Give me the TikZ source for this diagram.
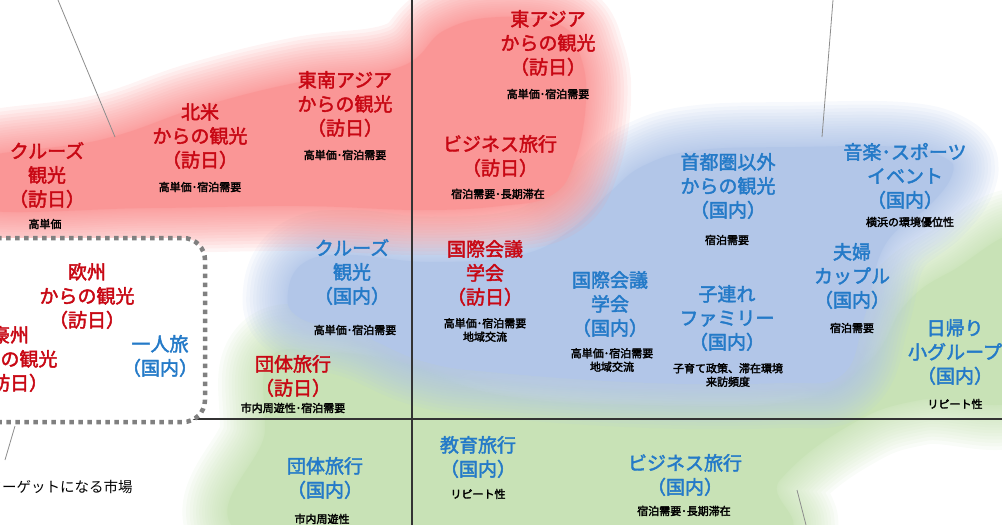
\documentclass[tikz,border=0pt]{standalone}
\usepackage{fontspec}
\setmainfont{Noto Sans CJK JP}
\newfontfamily\labfont{Noto Sans CJK JP}[FakeBold=2.2]
\newfontfamily\notefont{Noto Sans CJK JP}[FakeBold=2.5]
\definecolor{redfill}{RGB}{250,150,150}
\definecolor{bluefill}{RGB}{178,198,232}
\definecolor{greenfill}{RGB}{200,226,182}
\definecolor{redtxt}{RGB}{200,8,20}
\definecolor{bluetxt}{RGB}{36,122,200}
\newcommand{\softblob}[2]{%
  \foreach \i in {24,23,...,1} {\pgfmathsetmacro\blobw{90*(\i/24)*(\i/24)}\draw[#1, line width=\blobw pt, opacity=0.1, line join=round] plot[smooth cycle, tension=0.7] coordinates {#2};}
  \fill[#1] plot[smooth cycle, tension=0.7] coordinates {#2};%
}
\tikzset{
  lab/.style={align=center, font=\labfont\fontsize{19}{24}\selectfont, inner sep=0pt},
  jp/.style={lab, text=redtxt},
  dom/.style={lab, text=bluetxt},
  note/.style={align=center, font=\notefont\fontsize{11}{13.5}\selectfont, inner sep=0pt, text=black},
  axisline/.style={line width=1.1pt, draw=black!80},
  leader/.style={line width=0.8pt, draw=black!45},
  targetbox/.style={draw=black!50, line width=4.5pt, dash pattern=on 4.5pt off 4.5pt, rounded corners=22pt, fill=white},
}
\begin{document}
\begin{tikzpicture}[x=1pt,y=-1pt]
\useasboundingbox (0,0) rectangle (1002,525);
\clip (0,0) rectangle (1002,525);
% soft coloured regions
\softblob{greenfill}{(270,358) (325,352) (400,362) (500,395) (650,405) (800,400) (870,360) (905,305) (950,272) (1030,240) (1030,390) (920,400) (850,425) (780,480) (744,545) (270,545) (265,430)}
\softblob{bluefill}{(288,292) (305,262) (350,255) (430,262) (520,255) (570,230) (610,192) (645,165) (700,150) (800,147) (900,147) (945,158) (952,175) (930,205) (885,245) (865,315) (842,375) (780,383) (650,383) (500,373) (425,362) (360,335) (300,318)}
\softblob{redfill}{(-30,162) (100,140) (200,107) (300,82) (400,67) (445,30) (500,17) (560,25) (580,55) (586,100) (575,160) (552,195) (500,206) (420,210) (300,206) (150,208) (-30,208)}
% axes
\coordinate (vtop) at (412,0);
\coordinate (vbot) at (412,525);
\coordinate (hleft) at (150,419);
\coordinate (hright) at (1002,419);
\draw[axisline] (vtop) -- (vbot);
\draw[axisline] (hleft) -- (hright);
% target market box
\draw[targetbox] (-30,238) rectangle (205,422);
% leader lines
\coordinate (la1) at (58,0);   \coordinate (la2) at (115,137);
\coordinate (lb1) at (833,0);  \coordinate (lb2) at (822,137);
\coordinate (lc1) at (797,490); \coordinate (lc2) at (806,525);
\coordinate (ld1) at (15,426); \coordinate (ld2) at (5,460);
\draw[leader] (la1) -- (la2);
\draw[leader] (lb1) -- (lb2);
\draw[leader] (lc1) -- (lc2);
\draw[leader] (ld1) -- (ld2);
\node[anchor=west, inner sep=0pt, font=\fontsize{14.5}{17}\selectfont] (tgt) at (-12.5,487) {ターゲットになる市場};
% inbound (訪日) labels
\node[jp] (n1) at (47,175) {クルーズ\\観光\\（訪日）};
\node[note] (s1) at (45,224) {高単価};
\node[jp] (n2) at (200,136) {北米\\からの観光\\（訪日）};
\node[note] (s2) at (200,187) {高単価･宿泊需要};
\node[jp] (n3) at (345,104) {東南アジア\\からの観光\\（訪日）};
\node[note] (s3) at (345,155) {高単価･宿泊需要};
\node[jp] (n4) at (548,43) {東アジア\\からの観光\\（訪日）};
\node[note] (s4) at (548,94) {高単価･宿泊需要};
\node[jp] (n5) at (500,156) {ビジネス旅行\\（訪日）};
\node[note] (s5) at (498,194) {宿泊需要･長期滞在};
\node[jp] (n6) at (485,273) {国際会議\\学会\\（訪日）};
\node[note] (s6) at (485,330) {高単価･宿泊需要\\地域交流};
\node[jp] (n7) at (87,296) {欧州\\からの観光\\（訪日）};
\node[jp] (n8) at (10,359) {豪州\\からの観光\\（訪日）};
\node[jp] (n9) at (293,376) {団体旅行\\（訪日）};
\node[note] (s9) at (293,408) {市内周遊性･宿泊需要};
% domestic (国内) labels
\node[dom] (m1) at (160,356) {一人旅\\（国内）};
\node[dom] (m2) at (352,272) {クルーズ\\観光\\（国内）};
\node[note] (t2) at (355,330) {高単価･宿泊需要};
\node[dom] (m3) at (728,186) {首都圏以外\\からの観光\\（国内）};
\node[note] (t3) at (727,240) {宿泊需要};
\node[dom] (m4) at (905,176) {音楽･スポーツ\\イベント\\（国内）};
\node[note] (t4) at (910,222) {横浜の環境優位性};
\node[dom] (m5) at (610,304) {国際会議\\学会\\（国内）};
\node[note] (t5) at (612,360) {高単価･宿泊需要\\地域交流};
\node[dom] (m6) at (727,318) {子連れ\\ファミリー\\（国内）};
\node[note] (t6) at (728,375) {子育て政策、滞在環境\\来訪頻度};
\node[dom] (m7) at (852,276) {夫婦\\カップル\\（国内）};
\node[note] (t7) at (852,328) {宿泊需要};
\node[dom] (m8) at (955,352) {日帰り\\小グループ\\（国内）};
\node[note] (t8) at (955,404) {リピート性};
\node[dom] (m9) at (325,478) {団体旅行\\（国内）};
\node[note] (t9) at (322,519) {市内周遊性};
\node[dom] (m10) at (478,457) {教育旅行\\（国内）};
\node[note] (t10) at (478,494) {リピート性};
\node[dom] (m11) at (685,475) {ビジネス旅行\\（国内）};
\node[note] (t11) at (684,511) {宿泊需要･長期滞在};
\end{tikzpicture}
\end{document}
